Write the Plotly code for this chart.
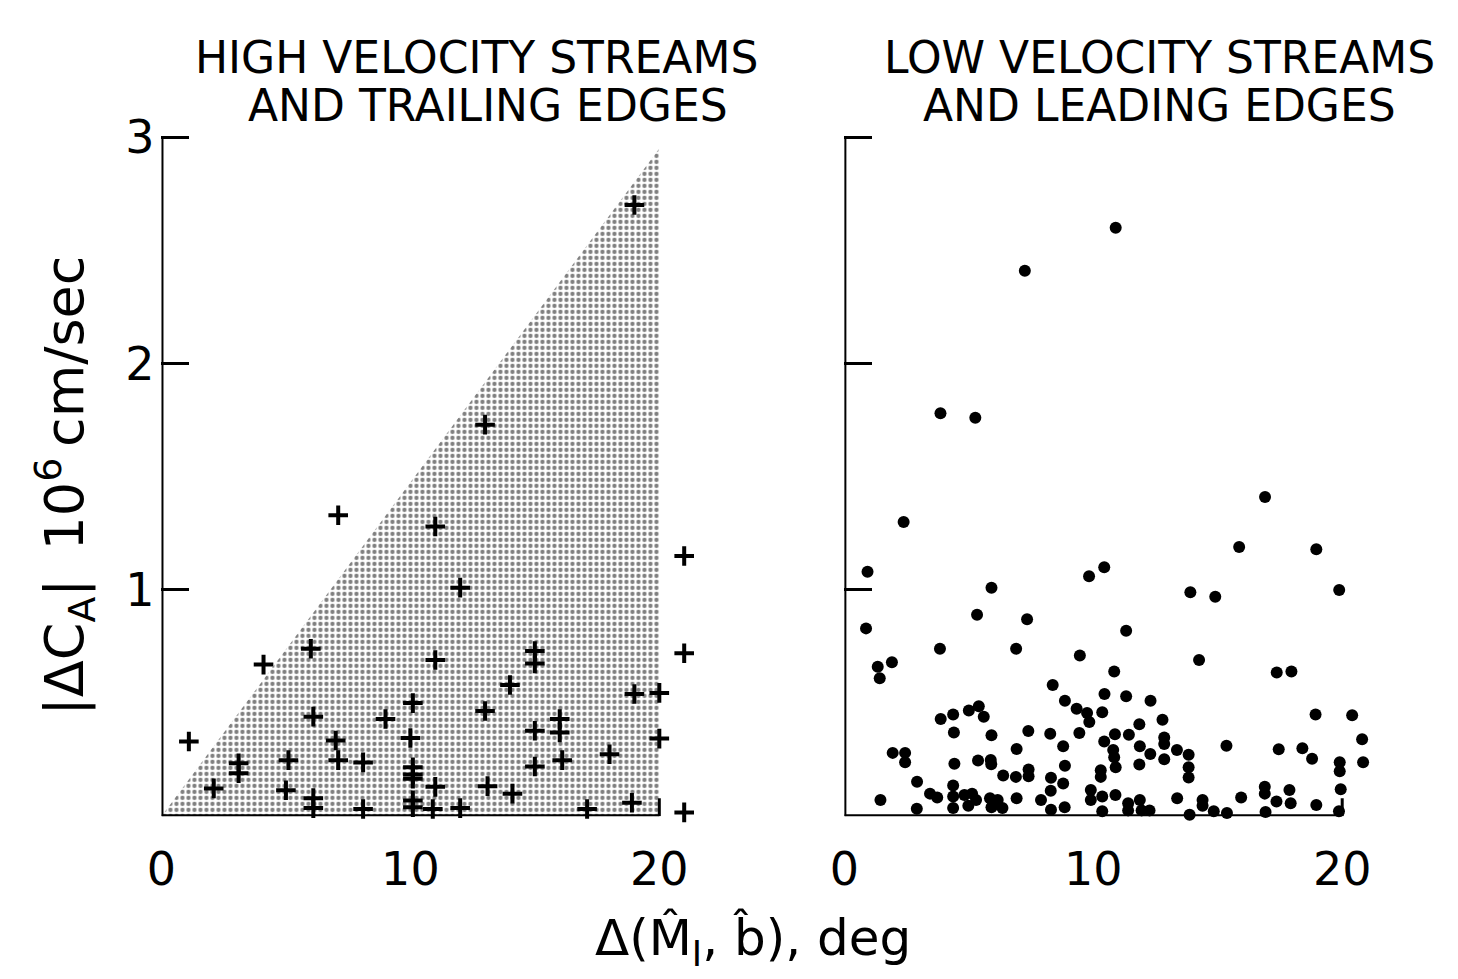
import plotly.graph_objects as go

# ---- data ----
hv_x = [19.0, 13.0, 7.1, 11.0, 21.0, 12.0, 21.0, 6.0, 4.1, 11.0, 15.0, 15.0, 14.0, 19.0, 20.0,
        10.1, 6.1, 9.0, 13.0, 16.0, 16.0, 1.1, 7.0, 10.0, 15.0, 20.0, 3.1, 3.1, 5.1, 7.1, 8.1,
        10.1, 10.1, 10.1, 15.0, 16.1, 18.0, 2.1, 5.0, 11.0, 13.1, 14.1, 6.1, 6.1, 8.1, 10.1,
        10.1, 10.9, 12.0, 17.1, 18.9, 21.0]
hv_y = [2.70, 1.73, 1.33, 1.28, 1.15, 1.01, 0.72, 0.74, 0.67, 0.69, 0.73, 0.675, 0.58, 0.54, 0.545,
        0.50, 0.44, 0.43, 0.465, 0.43, 0.37, 0.33, 0.335, 0.346, 0.378, 0.343, 0.234, 0.19, 0.248,
        0.248, 0.238, 0.216, 0.185, 0.166, 0.22, 0.248, 0.274, 0.123, 0.115, 0.13, 0.133, 0.10,
        0.08, 0.036, 0.032, 0.07, 0.04, 0.032, 0.036, 0.032, 0.06, 0.017]

lv_x = [10.9, 7.25, 3.86, 5.26, 2.38, 0.93, 16.9, 15.86, 18.96, 9.83, 10.44, 5.91, 13.9, 14.9, 19.88,
        5.33, 7.34, 0.87, 11.32, 3.84, 6.9, 9.46, 14.25, 1.34, 1.91, 1.42, 10.84, 17.37, 17.96,
        8.37, 8.86, 10.45, 11.32, 12.3, 9.33, 9.75, 9.84, 10.36, 5.0, 5.4, 5.6, 4.37, 3.87,
        18.93, 20.4, 12.78, 4.4, 5.91, 7.39, 8.27, 9.44, 10.87, 11.43, 11.85, 12.85, 12.85, 20.8,
        8.79, 6.92, 10.44, 10.8, 10.84, 10.9, 11.87, 12.29, 1.94, 2.44, 2.44, 13.36, 13.83, 15.35,
        17.45, 18.4, 18.79, 19.9, 19.9, 20.84, 4.42, 5.37, 5.88, 5.9, 8.86, 11.85, 12.85, 13.83,
        13.83, 7.4, 7.4, 6.38, 6.89, 10.3, 10.3, 8.3, 2.92, 8.79, 8.29, 16.89, 16.89, 17.88, 19.94,
        3.44, 3.73, 4.37, 4.37, 4.37, 4.82, 5.13, 5.29, 4.98, 5.85, 6.16, 6.35, 5.91, 6.92, 7.9,
        1.45, 2.91, 8.3, 8.85, 9.9, 9.9, 10.36, 10.36, 10.89, 11.4, 11.4, 11.87, 11.94, 12.26,
        13.37, 14.39, 14.39, 13.87, 14.84, 15.37, 15.94, 17.36, 17.93, 16.92, 18.96, 19.87]
lv_y = [2.60, 2.41, 1.78, 1.76, 1.30, 1.08, 1.41, 1.19, 1.18, 1.06, 1.10, 1.01, 0.99, 0.97, 1.00,
        0.89, 0.87, 0.83, 0.82, 0.74, 0.74, 0.71, 0.69, 0.66, 0.68, 0.61, 0.64, 0.635, 0.64,
        0.58, 0.51, 0.54, 0.53, 0.51, 0.475, 0.456, 0.416, 0.46, 0.467, 0.486, 0.44, 0.45, 0.43,
        0.45, 0.446, 0.426, 0.37, 0.358, 0.377, 0.365, 0.368, 0.362, 0.36, 0.406, 0.348, 0.319, 0.34,
        0.309, 0.297, 0.33, 0.293, 0.261, 0.217, 0.309, 0.275, 0.28, 0.28, 0.239, 0.293, 0.272, 0.312,
        0.296, 0.30, 0.254, 0.239, 0.199, 0.239, 0.232, 0.246, 0.249, 0.23, 0.223, 0.229, 0.252, 0.217,
        0.171, 0.207, 0.177, 0.18, 0.174, 0.203, 0.174, 0.17, 0.152, 0.145, 0.113, 0.13, 0.10, 0.116, 0.119,
        0.10, 0.083, 0.136, 0.087, 0.036, 0.094, 0.10, 0.072, 0.046, 0.08, 0.072, 0.036, 0.04, 0.08, 0.072,
        0.072, 0.033, 0.029, 0.04, 0.116, 0.072, 0.087, 0.022, 0.094, 0.058, 0.026, 0.072, 0.026, 0.026,
        0.08, 0.072, 0.046, 0.007, 0.022, 0.014, 0.083, 0.065, 0.058, 0.019, 0.05, 0.022]

# shaded wedge boundary (degrees, 10^6 cm/sec)
wedge_x = [0, 20, 20, 0]
wedge_y = [0, 2.95, 0, 0]

x_ticks = [0, 10, 20]
y_ticks = [1, 2, 3]

FONT = "DejaVu Sans"
W, H = 1458, 979

fig = go.Figure()

fig.add_trace(go.Scatter(
    x=wedge_x, y=wedge_y, mode="lines", fill="toself", line=dict(width=0, color="rgba(0,0,0,0)"),
    fillcolor="white",
    fillpattern=dict(shape=".", size=6, solidity=0.4, fgcolor="black", bgcolor="white"),
    xaxis="x", yaxis="y", hoverinfo="skip"))

fig.add_trace(go.Scatter(
    x=hv_x, y=hv_y, mode="markers", cliponaxis=False,
    marker=dict(symbol="cross-thin", size=14, line=dict(width=4, color="black"), color="black"),
    xaxis="x", yaxis="y"))

fig.add_trace(go.Scatter(
    x=lv_x, y=lv_y, mode="markers", cliponaxis=False,
    marker=dict(symbol="circle", size=12, color="black", line=dict(width=0)),
    xaxis="x2", yaxis="y2"))

# frame lines (axis from 0 to 20 and 0 to 3) drawn in data coordinates
for xr, yr in (("x", "y"), ("x2", "y2")):
    fig.add_shape(type="line", xref=xr, yref=yr, x0=0, y0=0, x1=20, y1=0,
                  line=dict(color="black", width=4))
    fig.add_shape(type="line", xref=xr, yref=yr, x0=0, y0=0, x1=0, y1=3,
                  line=dict(color="black", width=4))
    fig.add_shape(type="line", xref=xr, yref=yr, x0=20, y0=0, x1=20, y1=0.08,
                  line=dict(color="black", width=3))

Y_TOP = 3.01
px_per_unit_y = 232.3
y0p = 1 - 812 / H
y1p = 1 - (812 - Y_TOP * px_per_unit_y) / H
px_per_deg = 25.15

axis_common = dict(showgrid=False, zeroline=False, showline=False, range=[0, 22],
                   tickvals=x_ticks, ticktext=[str(v) for v in x_ticks],
                   tickfont=dict(family=FONT, size=46, color="black"),
                   ticks="", ticklabelstandoff=22)

fig.update_layout(
    width=W, height=H, margin=dict(l=0, r=0, t=0, b=0),
    paper_bgcolor="white", plot_bgcolor="rgba(0,0,0,0)", showlegend=False,
    xaxis=dict(domain=[148 / W, (148 + 22 * px_per_deg) / W], anchor="y", **axis_common),
    xaxis2=dict(domain=[838 / W, (838 + 22 * px_per_deg) / W], anchor="y2", **axis_common),
    yaxis=dict(domain=[y0p, y1p], anchor="x", range=[0, Y_TOP], showgrid=False, zeroline=False,
               showline=False, tickvals=y_ticks, ticktext=[str(v) for v in y_ticks],
               ticks="inside", ticklen=28, tickwidth=3, tickcolor="black",
               tickfont=dict(family=FONT, size=46, color="black"), ticklabelstandoff=6),
    yaxis2=dict(domain=[y0p, y1p], anchor="x2", range=[0, Y_TOP], showgrid=False, zeroline=False,
                showline=False, tickvals=y_ticks, showticklabels=False,
                ticks="inside", ticklen=28, tickwidth=3, tickcolor="black"),
)

title_font = dict(family=FONT, size=44, color="black")
ann = [
    dict(text="HIGH VELOCITY STREAMS", x=466 / W, y=1 - 33 / H),
    dict(text="AND TRAILING EDGES", x=478 / W, y=1 - 83 / H),
    dict(text="LOW VELOCITY STREAMS", x=1156 / W, y=1 - 33 / H),
    dict(text="AND LEADING EDGES", x=1156 / W, y=1 - 83 / H),
]
for a in ann:
    fig.add_annotation(xref="paper", yref="paper", xanchor="center", yanchor="middle",
                       showarrow=False, font=title_font, **a)

fig.add_annotation(text="|ΔC<sub>A</sub>|\u2009 10<sup>6</sup>\u2009cm/sec", xref="paper", yref="paper",
                   x=50 / W, y=1 - 472 / H, textangle=-90, showarrow=False,
                   xanchor="center", yanchor="middle",
                   font=dict(family=FONT, size=54, color="black"))
fig.add_annotation(text="Δ(M\u0302<sub>I</sub>, b\u0302), deg", xref="paper", yref="paper",
                   x=746 / W, y=1 - 940 / H, showarrow=False,
                   xanchor="center", yanchor="middle",
                   font=dict(family=FONT, size=50, color="black"))

fig.write_html("out.html")
